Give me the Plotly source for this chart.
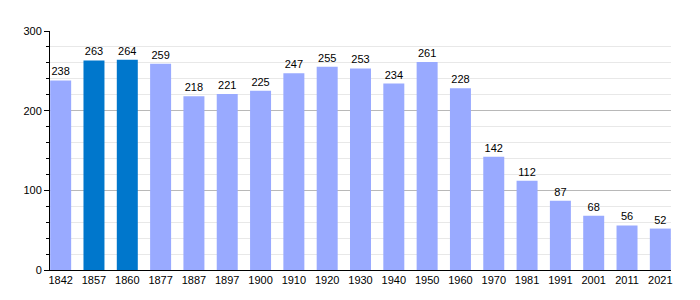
import plotly.graph_objects as go

years = ["1842", "1857", "1860", "1877", "1887", "1897", "1900", "1910", "1920", "1930",
         "1940", "1950", "1960", "1970", "1981", "1991", "2001", "2011", "2021"]
population = [238, 263, 264, 259, 218, 221, 225, 247, 255, 253, 234, 261, 228, 142, 112, 87, 68, 56, 52]
highlight = ["1857", "1860"]
light_color = "#99aaff"
dark_color = "#0077cc"
colors = [dark_color if y in highlight else light_color for y in years]

fig = go.Figure(go.Bar(
    x=years, y=population,
    marker=dict(color=colors, line=dict(width=0)),
    width=0.63,
    text=[str(v) for v in population],
    textposition="outside",
    textfont=dict(family="Liberation Sans, Arial, sans-serif", size=11, color="black"),
    cliponaxis=False,
))

fig.update_layout(
    width=700, height=300,
    margin=dict(l=50, r=29, t=31, b=30),
    paper_bgcolor="white", plot_bgcolor="white",
    showlegend=False,
    font=dict(family="Liberation Sans, Arial, sans-serif", size=11, color="black"),
    bargap=0.37,
)
fig.update_xaxes(
    type="category", range=[-0.32, 18.32],
    showline=True, linecolor="black", linewidth=1,
    ticks="", showgrid=False, tickfont=dict(size=11),
)
fig.update_yaxes(
    range=[0, 300], dtick=100, tick0=0,
    showline=True, linecolor="black", linewidth=1,
    ticks="outside", ticklen=5, tickcolor="black",
    showgrid=True, gridcolor="#b8b8b8", gridwidth=1,
    zeroline=False, tickfont=dict(size=11),
    minor=dict(dtick=20, ticks="outside", ticklen=3, tickcolor="black",
               showgrid=True, gridcolor="#e8e8e8", gridwidth=1),
)

fig.write_html("out.html")
